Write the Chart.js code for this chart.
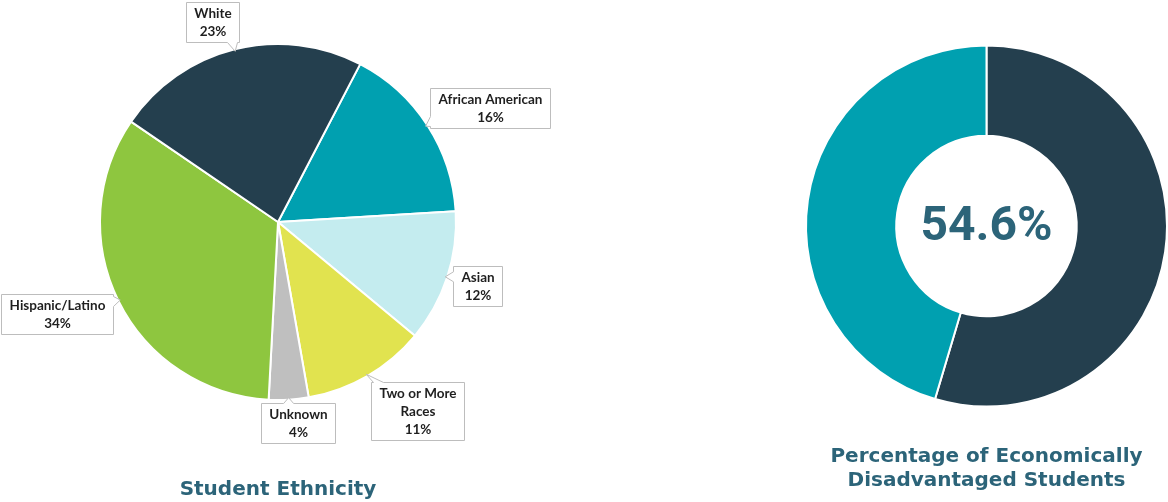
<!DOCTYPE html>
<html><head><meta charset="utf-8">
<script src="https://cdn.jsdelivr.net/npm/chart.js@4/dist/chart.umd.min.js"></script>
<style>
html,body{margin:0;padding:0;background:#fff;width:1168px;height:502px;overflow:hidden;}
#pieWrap{position:absolute;left:0;top:0;width:584px;height:502px;}
#donutWrap{position:absolute;left:584px;top:0;width:584px;height:502px;}
</style></head><body>
<div id="pieWrap"><canvas id="pie" width="584" height="502"></canvas></div>
<div id="donutWrap"><canvas id="donut" width="584" height="502"></canvas></div>
<script>
// ---- data ----
const ethnicityLabels = ['African American', 'Asian', 'Two or More Races', 'Unknown', 'Hispanic/Latino', 'White'];
const ethnicityValues = [16.4, 12.0, 11.2, 3.6, 33.7, 23.1];
const disadvLabels = ['Economically Disadvantaged', 'Not Economically Disadvantaged'];
const disadvValues = [54.6, 45.4];
const pieTitle = 'Student Ethnicity';
const donutTitle = ['Percentage of Economically', 'Disadvantaged Students'];

// ---- styles ----
const ethnicityColors = ['#00a0b0', '#c4ecef', '#e1e34f', '#bfbfbf', '#8ec63f', '#243f4e'];
const disadvColors = ['#243f4e', '#00a0b0'];
const titleColor = '#2c6479';
// callout box offset (box centre relative to slice edge point) and line wrapping
const calloutOffsets = [[64.4, -18.6], [31.8, 9.2], [51.7, 37.2], [9.4, 25.3], [-62.8, 14], [-22.2, -28.8]];
const calloutWrap = {'Two or More Races': ['Two or More', 'Races']};

function clamp(v, a, b){ return Math.max(a, Math.min(b, v)); }

function calloutPath(ctx, l, t, r, b, tx, ty){
  const w = 5;
  const dl = l - tx, dr = tx - r, dt = t - ty, db = ty - b;
  const m = Math.max(dl, dr, dt, db);
  ctx.beginPath();
  ctx.moveTo(l, t);
  if (m === dt){ const c = clamp(tx, l + w + 2, r - w - 2); ctx.lineTo(c - w, t); ctx.lineTo(tx, ty); ctx.lineTo(c + w, t); }
  ctx.lineTo(r, t);
  if (m === dr && m !== dt){ const c = clamp(ty, t + w + 2, b - w - 2); ctx.lineTo(r, c - w); ctx.lineTo(tx, ty); ctx.lineTo(r, c + w); }
  ctx.lineTo(r, b);
  if (m === db && m !== dt && m !== dr){ const c = clamp(tx, l + w + 2, r - w - 2); ctx.lineTo(c + w, b); ctx.lineTo(tx, ty); ctx.lineTo(c - w, b); }
  ctx.lineTo(l, b);
  if (m === dl && m !== dt && m !== dr && m !== db){ const c = clamp(ty, t + w + 2, b - w - 2); ctx.lineTo(l, c + w); ctx.lineTo(tx, ty); ctx.lineTo(l, c - w); }
  ctx.closePath();
}

const calloutPlugin = {
  id: 'callouts',
  afterDatasetsDraw(chart){
    const ctx = chart.ctx;
    const meta = chart.getDatasetMeta(0);
    const data = chart.data.datasets[0].data;
    const total = data.reduce((a, b) => a + b, 0);
    ctx.save();
    ctx.font = 'bold 13.5px Lato, "Liberation Sans", sans-serif';
    meta.data.forEach((arc, i) => {
      const p = arc.getProps(['x', 'y', 'startAngle', 'endAngle', 'outerRadius'], true);
      const mid = (p.startAngle + p.endAngle) / 2;
      const ax = p.x + Math.cos(mid) * (p.outerRadius - 2);
      const ay = p.y + Math.sin(mid) * (p.outerRadius - 2);
      const name = chart.data.labels[i];
      const lines = (calloutWrap[name] || [name]).concat([Math.round(data[i] / total * 100) + '%']);
      const tw = Math.max(...lines.map(s => ctx.measureText(s).width));
      const bw = Math.round(tw + 16), bh = lines.length * 18 + 4;
      const cx = ax + calloutOffsets[i][0], cy = ay + calloutOffsets[i][1];
      const l = Math.round(cx - bw / 2) + 0.5, t = Math.round(cy - bh / 2) + 0.5;
      calloutPath(ctx, l, t, l + bw, t + bh, ax, ay);
      ctx.fillStyle = '#ffffff';
      ctx.fill();
      ctx.strokeStyle = '#bdbdbd';
      ctx.lineWidth = 1;
      ctx.stroke();
      ctx.fillStyle = '#1f1f1f';
      ctx.textAlign = 'center';
      ctx.textBaseline = 'middle';
      lines.forEach((s, k) => ctx.fillText(s, l + bw / 2, t + 2 + 9.5 + k * 18));
    });
    ctx.restore();
  }
};

const titlePlugin = {
  id: 'bottomTitle',
  afterDraw(chart, args, opts){
    const ctx = chart.ctx;
    ctx.save();
    ctx.font = opts.font;
    ctx.fillStyle = titleColor;
    ctx.textAlign = 'center';
    ctx.textBaseline = 'middle';
    const cx = (chart.chartArea.left + chart.chartArea.right) / 2;
    opts.lines.forEach((s, k) => ctx.fillText(s, cx, opts.y + k * opts.lineHeight));
    ctx.restore();
  }
};

const centerTextPlugin = {
  id: 'centerText',
  afterDraw(chart){
    const ctx = chart.ctx;
    const arc = chart.getDatasetMeta(0).data[0];
    const v = chart.data.datasets[0].data[0];
    ctx.save();
    ctx.font = 'bold 48px Roboto, "Liberation Sans", sans-serif';
    ctx.fillStyle = titleColor;
    ctx.textAlign = 'center';
    ctx.textBaseline = 'middle';
    ctx.fillText(v.toFixed(1) + '%', arc.x, arc.y + 2);
    ctx.restore();
  }
};

new Chart(document.getElementById('pie'), {
  type: 'pie',
  data: {
    labels: ethnicityLabels,
    datasets: [{ data: ethnicityValues, backgroundColor: ethnicityColors, borderColor: '#ffffff', borderWidth: 2 }]
  },
  options: {
    responsive: false,
    animation: false,
    rotation: 27.5,
    radius: 178,
    layout: { padding: { left: 0, right: 28, top: 0, bottom: 58 } },
    plugins: {
      legend: { display: false },
      tooltip: { enabled: false },
      bottomTitle: { lines: [pieTitle], y: 490, lineHeight: 24, font: 'bold 20px "DejaVu Sans", Verdana, sans-serif' }
    }
  },
  plugins: [calloutPlugin, titlePlugin]
});

new Chart(document.getElementById('donut'), {
  type: 'doughnut',
  data: {
    labels: disadvLabels,
    datasets: [{ data: disadvValues, backgroundColor: disadvColors, borderColor: '#ffffff', borderWidth: 2 }]
  },
  options: {
    responsive: false,
    animation: false,
    rotation: 0,
    radius: 180.5,
    cutout: '50%',
    layout: { padding: { left: 221, right: 0, top: 0, bottom: 50 } },
    plugins: {
      legend: { display: false },
      tooltip: { enabled: false },
      bottomTitle: { lines: donutTitle, y: 456.5, lineHeight: 24.5, font: 'bold 20px "DejaVu Sans", Verdana, sans-serif' }
    }
  },
  plugins: [centerTextPlugin, titlePlugin]
});
</script>
</body></html>
